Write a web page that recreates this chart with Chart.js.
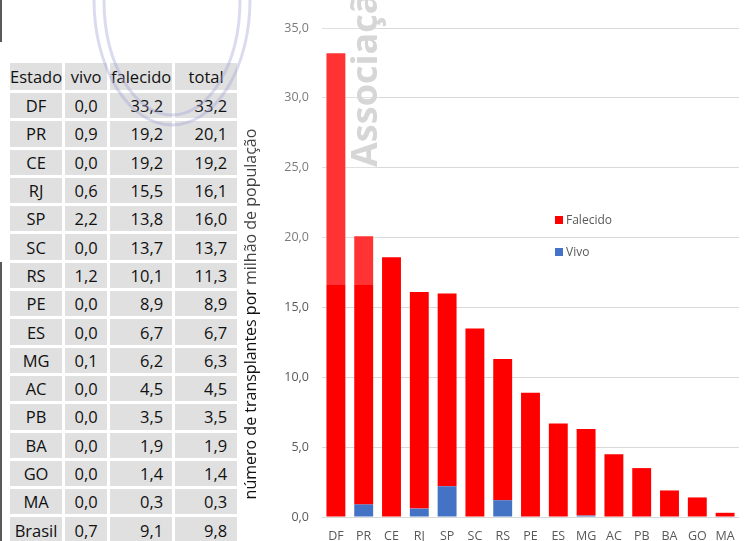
<!DOCTYPE html>
<html>
<head>
<meta charset="utf-8">
<script src="https://cdn.jsdelivr.net/npm/chart.js@4/dist/chart.umd.min.js"></script>
<style>
  html, body { margin: 0; padding: 0; background: #fff; }
  body { width: 745px; height: 541px; position: relative; overflow: hidden; font-family: "Open Sans", sans-serif; }
  #leftLine1, #leftLine2 { position: absolute; left: 0; width: 2px; background: #5a5a5a; }
  #tbl { position: absolute; left: 7px; top: 60px; border-collapse: separate; border-spacing: 3px; font-size: 16.5px; color: #111; }
  #tbl td { background: #e0e0e0; height: 25.3px; padding: 0; line-height: 25px; white-space: nowrap; }
  #tbl tr.head td { height: 27px; text-align: center; }
  #tbl td.c1 { width: 52px; text-align: center; }
  #tbl td.c2 { width: 42px; text-align: center; }
  #tbl td.c3 { width: 62px; text-align: right; }
  #tbl td.c4 { width: 62px; text-align: right; }
  #tbl td.c3 span { padding-right: 9px; }
  #tbl td.c4 span { padding-right: 10px; }
  #chartBox { position: absolute; left: 236px; top: 0; width: 509px; height: 541px; }
  .leg { position: absolute; left: 555px; font-size: 12px; color: #595959; line-height: 14px; }
  .leg i { display: inline-block; width: 8px; height: 8px; margin-right: 3px; }
  #overlay { position: absolute; left: 0; top: 0; pointer-events: none; }
</style>
</head>
<body>
<div id="leftLine1" style="top:0;height:42px"></div>
<div id="leftLine2" style="top:262px;height:279px"></div>

<table id="tbl"><tbody id="tbody"></tbody></table>

<div id="chartBox"><canvas id="transplantChart" width="509" height="541"></canvas></div>

<div class="leg" style="top:213px"><i style="background:#ff0000"></i>Falecido</div>
<div class="leg" style="top:245px"><i style="background:#4472c4"></i>Vivo</div>

<svg id="overlay" width="745" height="541">
  <rect x="240" y="0" width="138" height="285" fill="#ffffff" opacity="0.2"></rect>
  <ellipse cx="172" cy="0" rx="78" ry="125" fill="none" stroke="rgb(165,165,215)" stroke-opacity="0.4" stroke-width="3"></ellipse>
  <ellipse cx="172" cy="0" rx="68" ry="115" fill="none" stroke="rgb(165,165,215)" stroke-opacity="0.4" stroke-width="3"></ellipse>
  <text transform="translate(377,167) rotate(-90)" font-family="Open Sans" font-weight="bold" font-size="36" fill="#d6d6d6">Associação</text>
</svg>

<script>
// Table values (as printed in the picture).
var tableStates = ["DF", "PR", "CE", "RJ", "SP", "SC", "RS", "PE", "ES", "MG", "AC", "PB", "BA", "GO", "MA", "Brasil"];
var tableVivo = ["0,0", "0,9", "0,0", "0,6", "2,2", "0,0", "1,2", "0,0", "0,0", "0,1", "0,0", "0,0", "0,0", "0,0", "0,0", "0,7"];
var tableFalecido = ["33,2", "19,2", "19,2", "15,5", "13,8", "13,7", "10,1", "8,9", "6,7", "6,2", "4,5", "3,5", "1,9", "1,4", "0,3", "9,1"];
var tableTotal = ["33,2", "20,1", "19,2", "16,1", "16,0", "13,7", "11,3", "8,9", "6,7", "6,3", "4,5", "3,5", "1,9", "1,4", "0,3", "9,8"];

// Bar values.
var labels = ["DF", "PR", "CE", "RJ", "SP", "SC", "RS", "PE", "ES", "MG", "AC", "PB", "BA", "GO", "MA"];
var vivoValues = [0.0, 0.9, 0.0, 0.6, 2.2, 0.0, 1.2, 0.0, 0.0, 0.1, 0.0, 0.0, 0.0, 0.0, 0.0];
var falecidoValues = [33.2, 19.2, 18.6, 15.5, 13.8, 13.5, 10.1, 8.9, 6.7, 6.2, 4.5, 3.5, 1.9, 1.4, 0.3];
var yTicks = [0, 5, 10, 15, 20, 25, 30, 35];
var yTitle = "número de transplantes por milhão de população";

// Build the table rows.
var tbody = document.getElementById("tbody");
var head = document.createElement("tr");
head.className = "head";
head.innerHTML = "<td class='c1'>Estado</td><td class='c2'>vivo</td><td class='c3' style='text-align:center'>falecido</td><td class='c4' style='text-align:center'>total</td>";
tbody.appendChild(head);
for (var i = 0; i < tableStates.length; i++) {
  var tr = document.createElement("tr");
  tr.innerHTML = "<td class='c1'>" + tableStates[i] + "</td><td class='c2'>" + tableVivo[i] +
    "</td><td class='c3'><span>" + tableFalecido[i] + "</span></td><td class='c4'><span>" + tableTotal[i] + "</span></td>";
  tbody.appendChild(tr);
}

// Y title sits lower than the axis middle in the original, so draw it ourselves.
var yTitlePlugin = {
  id: "yTitle",
  afterDraw: function (chart) {
    var ctx = chart.ctx;
    var area = chart.chartArea;
    ctx.save();
    ctx.translate(chart.scales.y.left + 15, area.bottom - 203);
    ctx.rotate(-Math.PI / 2);
    ctx.font = "16px 'Open Sans'";
    ctx.fillStyle = "#111";
    ctx.textAlign = "center";
    ctx.textBaseline = "middle";
    ctx.fillText(yTitle, 0, 0);
    ctx.restore();
  }
};

var data = {
  labels: labels,
  datasets: [
    { label: "Vivo", backgroundColor: "#4472c4", data: vivoValues },
    { label: "Falecido", backgroundColor: "#ff0000", data: falecidoValues }
  ]
};

var config = {
  type: "bar",
  data: data,
  plugins: [yTitlePlugin],
  options: {
    responsive: false,
    animation: false,
    layout: { padding: { top: 28, right: 6, bottom: 0, left: 0 } },
    datasets: { bar: { barPercentage: 0.68, categoryPercentage: 1.0 } },
    plugins: { legend: { display: false }, tooltip: { enabled: false } },
    scales: {
      x: {
        stacked: true,
        grid: { display: false },
        border: { display: false },
        ticks: { color: "#595959", font: { family: "Open Sans", size: 12.5 }, padding: 4, maxRotation: 0 },
        afterFit: function (axis) { axis.height = 24; }
      },
      y: {
        stacked: true,
        min: 0,
        max: 35,
        afterBuildTicks: function (axis) { axis.ticks = yTicks.map(v => ({ value: v })); },
        grid: { color: "#d9d9d9", drawTicks: false },
        border: { display: false },
        ticks: {
          color: "#595959",
          font: { family: "Open Sans", size: 12.5 },
          padding: 13,
          callback: function (v) { return v.toFixed(1).replace(".", ","); }
        },
        afterFit: function (axis) { axis.width = 86; }
      }
    }
  }
};

var myChart = new Chart(document.getElementById("transplantChart"), config);
</script>
</body>
</html>
